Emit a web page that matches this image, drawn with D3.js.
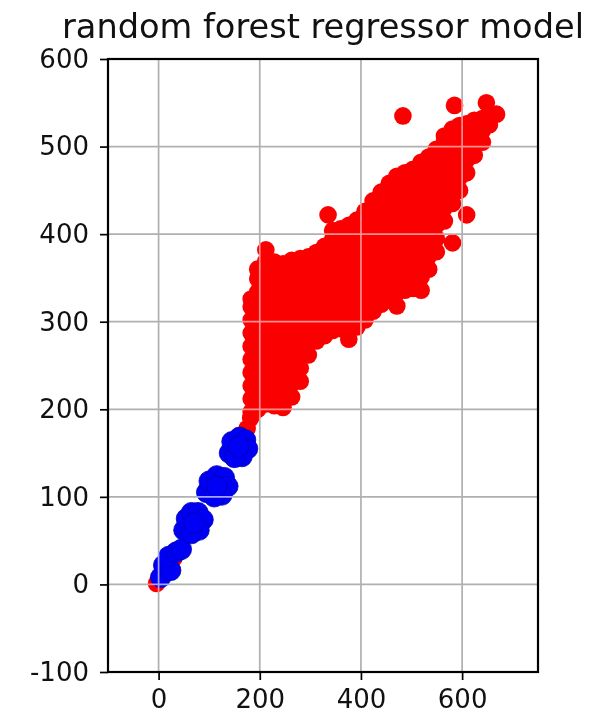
<!DOCTYPE html>
<html>
<head>
<meta charset="utf-8">
<script src="https://cdn.jsdelivr.net/npm/d3@7"></script>
<style>
  html, body { margin: 0; padding: 0; background: #fff; }
  svg { display: block; }
</style>
</head>
<body>
<script>
// Chart title and axis ticks
const chartTitle = "random forest regressor model";
const xTicks = [0, 200, 400, 600];
const yTicks = [-100, 0, 100, 200, 300, 400, 500, 600];

// Red series: each entry is an x value and the y values plotted at it
const redColumns = [
  [183, [197, 212, 227, 242, 257, 272, 287, 302, 317, 326]],
  [196, [200, 214, 229, 244, 259, 274, 289, 304, 319, 334, 349, 360]],
  [212, [206, 221, 236, 251, 266, 281, 296, 311, 326, 341, 356, 369, 382]],
  [229, [204, 219, 234, 249, 264, 279, 294, 309, 324, 339, 354, 368]],
  [246, [202, 217, 232, 247, 262, 277, 292, 307, 322, 337, 352, 366]],
  [263, [214, 229, 244, 259, 274, 289, 304, 319, 334, 349, 362, 370]],
  [280, [232, 247, 262, 277, 292, 307, 322, 337, 352, 366, 372]],
  [296, [262, 277, 292, 307, 322, 337, 352, 367, 374]],
  [312, [278, 293, 308, 323, 338, 353, 368, 379]],
  [328, [284, 299, 314, 329, 344, 359, 374, 386]],
  [335, [422]],
  [344, [290, 305, 320, 335, 350, 365, 380, 394, 404]],
  [360, [292, 307, 322, 337, 352, 367, 382, 396, 406]],
  [376, [280, 295, 310, 325, 340, 355, 370, 385, 400, 410]],
  [392, [294, 309, 324, 339, 354, 369, 384, 399, 412, 416]],
  [408, [302, 317, 332, 347, 362, 377, 392, 407, 420, 426]],
  [424, [312, 327, 342, 357, 372, 387, 402, 417, 431, 438]],
  [440, [320, 335, 350, 365, 380, 395, 410, 425, 440, 448]],
  [456, [326, 341, 356, 371, 386, 401, 416, 431, 446, 458]],
  [471, [318, 333, 348, 363, 378, 393, 408, 423, 438, 453, 466]],
  [483, [535]],
  [487, [336, 351, 366, 381, 396, 411, 426, 441, 456, 470]],
  [503, [338, 353, 368, 383, 398, 413, 428, 443, 458, 474]],
  [519, [336, 351, 366, 381, 396, 411, 426, 441, 456, 471, 482]],
  [534, [360, 375, 390, 405, 420, 435, 450, 465, 480, 488]],
  [549, [380, 395, 410, 425, 440, 455, 470, 485, 497]],
  [565, [415, 430, 445, 460, 475, 490, 505, 512]],
  [581, [390, 435, 450, 465, 480, 495, 510, 520]],
  [585, [547]],
  [595, [450, 465, 480, 495, 510, 524]],
  [609, [422, 470, 485, 500, 515, 526]],
  [624, [490, 505, 518, 530]],
  [640, [505, 518, 532]],
  [648, [550]],
  [654, [525, 538]],
  [668, [537]]
];

// Red points along the lower diagonal (partly covered by the blue series)
const redLower = [
  [-4, 1], [30, 30], [70, 70], [110, 115], [150, 150],
  [170, 158], [165, 168], [175, 178], [182, 190]
];

// Blue series
const bluePoints = [
  [4, 8], [10, 22], [24, 16], [20, 32], [35, 37], [45, 40],
  [50, 62], [55, 75], [65, 82], [78, 82], [88, 74], [80, 62], [65, 58], [70, 70],
  [95, 105], [100, 118], [115, 124], [130, 122], [137, 112], [125, 102], [110, 100], [115, 112],
  [140, 150], [145, 163], [160, 168], [172, 165], [176, 155], [165, 146], [150, 145], [158, 157]
];

const redPoints = redLower.concat(
  redColumns.flatMap(([x, ys]) => ys.map(y => [x, y]))
);

const W = 595, H = 718;
const plot = { left: 108, right: 538, top: 59, bottom: 672 };

const x = d3.scaleLinear().domain([-100, 750]).range([plot.left, plot.right]);
const y = d3.scaleLinear().domain([-100, 600]).range([plot.bottom, plot.top]);

const svg = d3.select("body").append("svg")
  .attr("width", W).attr("height", H)
  .style("font-family", "'DejaVu Sans', sans-serif");

svg.append("rect").attr("width", W).attr("height", H).attr("fill", "#fff");

// Scatter marks
const marks = svg.append("g");
marks.selectAll("circle.red").data(redPoints).join("circle")
  .attr("class", "red")
  .attr("cx", d => x(d[0])).attr("cy", d => y(d[1]))
  .attr("r", 8.8)
  .attr("fill", "#fa0000");

marks.selectAll("circle.blue").data(bluePoints).join("circle")
  .attr("class", "blue")
  .attr("cx", d => x(d[0])).attr("cy", d => y(d[1]))
  .attr("r", 10.2)
  .attr("fill", "#0000f5")
  .attr("stroke", "#0000b8").attr("stroke-width", 0.8);

// Grid drawn above the marks
const grid = svg.append("g").style("mix-blend-mode", "luminosity");
grid.selectAll("line.gx").data(xTicks).join("line")
  .attr("x1", d => x(d)).attr("x2", d => x(d))
  .attr("y1", plot.top).attr("y2", plot.bottom)
  .attr("stroke", "#b0b0b0").attr("stroke-width", 1.7);
grid.selectAll("line.gy").data(yTicks).join("line")
  .attr("x1", plot.left).attr("x2", plot.right)
  .attr("y1", d => y(d)).attr("y2", d => y(d))
  .attr("stroke", "#b0b0b0").attr("stroke-width", 1.7);

// Axes
const fmt = d => String(d);
const xAxis = d3.axisBottom(x).tickValues(xTicks).tickSize(8).tickPadding(10).tickFormat(fmt);
const yAxis = d3.axisLeft(y).tickValues(yTicks).tickSize(8).tickPadding(11).tickFormat(fmt);

const gx = svg.append("g").attr("transform", `translate(0,${plot.bottom})`).call(xAxis);
const gy = svg.append("g").attr("transform", `translate(${plot.left},0)`).call(yAxis);
[gx, gy].forEach(g => {
  g.select(".domain").remove();
  g.selectAll(".tick line").attr("stroke", "#000").attr("stroke-width", 1.7);
  g.selectAll(".tick text")
    .attr("fill", "#111")
    .style("font-size", "26px")
    .style("font-family", "'DejaVu Sans', sans-serif");
});

// Frame
svg.append("rect")
  .attr("x", plot.left).attr("y", plot.top)
  .attr("width", plot.right - plot.left).attr("height", plot.bottom - plot.top)
  .attr("fill", "none").attr("stroke", "#000").attr("stroke-width", 2.2);

// Title
svg.append("text")
  .attr("x", (plot.left + plot.right) / 2).attr("y", 38)
  .attr("text-anchor", "middle")
  .attr("textLength", 522).attr("lengthAdjust", "spacingAndGlyphs")
  .style("font-size", "33px")
  .attr("fill", "#111")
  .text(chartTitle);
</script>
</body>
</html>
